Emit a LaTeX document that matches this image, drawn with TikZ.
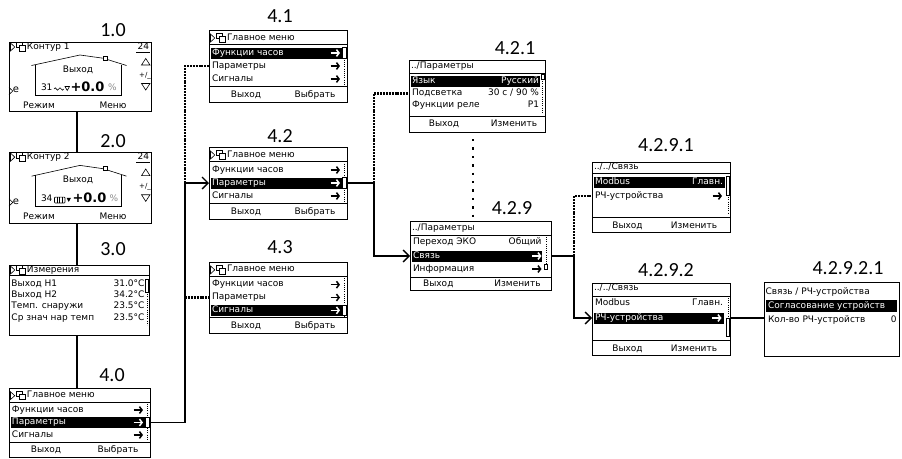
\documentclass[tikz,border=0pt]{standalone}
\usepackage{fontspec}
\setmainfont{DejaVu Sans}
\newfontfamily\lblfont{Carlito}
\usetikzlibrary{arrows.meta,calc}
\tikzset{
  screen/.style={draw,line width=1pt,inner sep=0pt,outer sep=0pt,fill=white},
  stxt/.style={inner sep=0pt,outer sep=0pt,font=\fontsize{9}{9}\selectfont,text height=6pt,text depth=1.8pt},
  big/.style={inner sep=0pt,outer sep=0pt,anchor=west,font=\bfseries\fontsize{13}{13}\selectfont,text height=9.5pt,text depth=0pt},
  pct/.style={stxt,anchor=west,text=black!45},
  lbl/.style={inner sep=0pt,outer sep=0pt,font=\lblfont\fontsize{20}{20}\selectfont},
  hlbar/.style={fill=black,inner sep=0pt,outer sep=0pt,minimum height=11pt,anchor=west},
  sepline/.style={line width=0.8pt},
  icon/.style={line width=0.6pt},
  sbox/.style={line width=0.7pt,fill=white},
  sdots/.style={line width=0.6pt,dash pattern=on 0.8pt off 1.4pt},
  rarrow/.style={line width=1.5pt,-{Straight Barb[length=2.6pt,width=6.8pt]}},
  conn/.style={line width=1.3pt},
  dconn/.style={line width=2.5pt,dash pattern=on 2pt off 0.9pt},
  sparse/.style={line width=2.3pt,dash pattern=on 2.3pt off 6.1pt},
  tip/.style={-{Straight Barb[length=6pt,width=12pt]}},
}
\newcommand\hicon[1]{%
  \draw[icon] (1.5,#1-4) -- (5.8,#1) -- (1.5,#1+4) -- cycle;
  \draw[icon] (7.5,#1-4.3) rectangle (13,#1+0.7);
  \draw[icon,fill=white] (10.3,#1-1.6) rectangle (16.3,#1+4.2);}
\newcommand\rarr[3]{\draw[rarrow,draw=#3] (#1-9.5,#2) -- (#1,#2);}
\newcommand\mainmenu[6]{%
  \ifcase#6\or\def\cA{white}\def\cB{black}\def\cC{black}%
  \or\def\cA{black}\def\cB{white}\def\cC{black}%
  \or\def\cA{black}\def\cB{black}\def\cC{white}\fi
  \begin{scope}[shift={(#2,#3)},yscale=#5/72]
    \node[screen,minimum width=#4pt,minimum height=#5pt,anchor=north west] (#1) at (0,0) {};
    \pgfmathsetmacro\hly{23+13*(#6-1)}
    \hicon{8}
    \node[stxt,anchor=west] (#1-h) at (18,8) {Главное меню};
    \draw[sepline] (0,14.5) -- (#4,14.5);
    \node[hlbar,minimum width={(#4-7)*1pt}] (#1-hl) at (1.5,\hly) {};
    \coordinate (#1-r1) at (0,23);
    \coordinate (#1-r2) at (0,36);
    \coordinate (#1-r3) at (0,49);
    \node[stxt,anchor=west,text=\cA] (#1-t1) at (3,23) {Функции часов};
    \node[stxt,anchor=west,text=\cB] (#1-t2) at (3,36) {Параметры};
    \node[stxt,anchor=west,text=\cC] (#1-t3) at (3,49) {Сигналы};
    \rarr{#4-7}{23}{\cA}
    \rarr{#4-7}{36}{\cB}
    \rarr{#4-7}{49}{\cC}
    \draw[sdots] (#4-2.5,16.5) -- (#4-2.5,55);
    \draw[sbox] (#4-4.5,\hly-5.5) rectangle (#4-1,\hly+5.5);
    \draw[sepline] (0,56.5) -- (#4,56.5);
    \node[stxt] (#1-b1) at (37,65) {Выход};
    \node[stxt] (#1-b2) at (#4-32,65) {Выбрать};
  \end{scope}}
\newcommand\circuit[5]{%
  \begin{scope}[shift={(9,#2)},yscale=#3/69]
    \node[screen,minimum width=142pt,minimum height=#3pt,anchor=north west] (#1) at (0,0) {};
    \hicon{5}
    \node[stxt,anchor=west] (#1-h) at (18,5) {#4};
    \node[stxt,anchor=east] (#1-n) at (140,5) {24};
    \draw[icon] (127,9.8) -- (140.5,9.8);
    \draw[icon] (22.5,23.5) -- (71,13) -- (94,16.2);
    \draw[icon] (98,17.4) -- (117.5,23.5);
    \draw[icon] (94,14) rectangle (98,18);
    \draw[icon] (26,22.7) -- (26,53) -- (112.7,53) -- (112.7,22.7);
    \node[stxt] (#1-v) at (69,28) {Выход};
    \draw[icon] (132.5,23) -- (141,23) -- (136.75,16.5) -- cycle;
    \node[stxt,font=\fontsize{7}{7}\selectfont] (#1-pm) at (136,33) {+/\_};
    \draw[icon] (132.5,41.5) -- (141,41.5) -- (136.75,48) -- cycle;
    \draw[icon] (0,45.5) -- (3.8,49) -- (0,52.5);
    \node[stxt,anchor=west,font=\fontsize{10}{10}\selectfont] (#1-e) at (3.8,48.5) {e};
    \node[stxt] (#1-b1) at (30,64) {Режим};
    \node[stxt] (#1-b2) at (104,64) {Меню};
    #5
  \end{scope}}
\begin{document}
\begin{tikzpicture}[x=1pt,y=-1pt]
\useasboundingbox (0,0) rectangle (902,458);
\fill[white] (0,0) rectangle (902,458);

% ---------- left column ----------
\circuit{s10}{42}{69}{Контур 1}{%
  \node[stxt,anchor=west] (s10-t) at (32,46.5) {31};
  \draw[icon] (45,47) sin (46.2,45.8) cos (47.4,47) sin (48.6,48.2) cos (49.8,47) sin (51,45.8) cos (52.2,47) sin (53.4,48.2) cos (54.6,47);
  \draw[icon] (56,44.5) -- (60.5,44.5) -- (58.25,48.5) -- cycle;
  \node[big] (s10-p) at (61.5,44.7) {+0.0};
  \node[pct] (s10-pc) at (99,46.5) {\%};
}
\circuit{s20}{152}{71}{Контур 2}{%
  \node[stxt,anchor=west] (s20-t) at (32,46.5) {34};
  \draw[icon,rounded corners=0.8pt] (45.5,43.8) rectangle (56,49.6);
  \draw[icon] (48.1,43.8) -- (48.1,49.6) (50.7,43.8) -- (50.7,49.6) (53.3,43.8) -- (53.3,49.6);
  \fill (57.5,44.5) -- (62,44.5) -- (59.75,48.5) -- cycle;
  \node[big] (s20-p) at (63.5,44.7) {+0.0};
  \node[pct] (s20-pc) at (100.5,46.5) {\%};
}
\begin{scope}[shift={(9,265)}]
  \node[screen,minimum width=140pt,minimum height=70pt,anchor=north west] (s30) at (0,0) {};
  \hicon{5}
  \node[stxt,anchor=west] (s30-h) at (18,5) {Измерения};
  \draw[sepline] (0,10.5) -- (140,10.5);
  \node[stxt,anchor=west] (s30-l1) at (2.5,19) {Выход H1};
  \node[stxt,anchor=east] (s30-v1) at (135.5,19) {31.0°C};
  \node[stxt,anchor=west] (s30-l2) at (2.5,30) {Выход H2};
  \node[stxt,anchor=east] (s30-v2) at (135.5,30) {34.2°C};
  \node[stxt,anchor=west] (s30-l3) at (2.5,41.5) {Темп. снаружи};
  \node[stxt,anchor=east] (s30-v3) at (135.5,41.5) {23.5°C};
  \node[stxt,anchor=west] (s30-l4) at (2.5,53) {Ср знач нар темп};
  \node[stxt,anchor=east] (s30-v4) at (135.5,53) {23.5°C};
  \draw[sdots] (138,27) -- (138,60);
  \draw[sbox] (136.3,14.5) rectangle (139.5,27);
\end{scope}
\mainmenu{s40}{9}{388}{141}{69}{2}

% ---------- 4.x ----------
\mainmenu{s41}{209}{30}{138}{72}{1}
\mainmenu{s42}{209}{147}{138}{72}{2}
\mainmenu{s43}{209}{262}{138}{71}{3}

% ---------- 4.2.1 ----------
\begin{scope}[shift={(409,60)}]
  \node[screen,minimum width=136pt,minimum height=72pt,anchor=north west] (s421) at (0,0) {};
  \node[stxt,anchor=west] (s421-h) at (2,6) {../Параметры};
  \draw[sepline] (0,13.5) -- (136,13.5);
  \node[hlbar,minimum width=129.5pt] (s421-hl) at (1.5,21.7) {};
  \coordinate (s421-r1) at (0,21.7);
  \coordinate (s421-r2) at (0,33.3);
  \coordinate (s421-r3) at (0,45);
  \node[stxt,anchor=west,text=white] (s421-l1) at (3,21.7) {Язык};
  \node[stxt,anchor=east,text=white] (s421-v1) at (130,21.7) {Русский};
  \node[stxt,anchor=west] (s421-l2) at (3,33.3) {Подсветка};
  \node[stxt,anchor=east] (s421-v2) at (130,33.3) {30 с / 90 \%};
  \node[stxt,anchor=west] (s421-l3) at (3,45) {Функции реле};
  \node[stxt,anchor=east] (s421-v3) at (130,45) {P1};
  \draw[sdots] (133.5,19) -- (133.5,54);
  \draw[sbox] (132,14.8) rectangle (135.2,19);
  \draw[sepline] (0,56.7) -- (136,56.7);
  \node[stxt] (s421-b1) at (35,64.5) {Выход};
  \node[stxt] (s421-b2) at (105,64.5) {Изменить};
\end{scope}

% ---------- 4.2.9 ----------
\begin{scope}[shift={(410,221)}]
  \node[screen,minimum width=141pt,minimum height=69pt,anchor=north west] (s429) at (0,0) {};
  \node[stxt,anchor=west] (s429-h) at (2,7.5) {../Параметры};
  \draw[sepline] (0,14) -- (141,14);
  \node[hlbar,minimum width=130.5pt] (s429-hl) at (1.5,35) {};
  \node[stxt,anchor=west] (s429-l1) at (3,21.5) {Переход ЭКО};
  \node[stxt,anchor=east] (s429-v1) at (131.5,21.5) {Общий};
  \node[stxt,anchor=west,text=white] (s429-l2) at (3,35) {Связь};
  \rarr{131.5}{35}{white}
  \node[stxt,anchor=west] (s429-l3) at (3,48) {Информация};
  \rarr{131.5}{48}{black}
  \draw[sdots] (136,16) -- (136,43);
  \draw[sbox] (134.4,43) rectangle (137.6,48.5);
  \draw[sepline] (0,56) -- (141,56);
  \node[stxt] (s429-b1) at (28.3,63.5) {Выход};
  \node[stxt] (s429-b2) at (107.5,63.5) {Изменить};
\end{scope}

% ---------- 4.2.9.1 ----------
\begin{scope}[shift={(592,162)}]
  \node[screen,minimum width=138pt,minimum height=70pt,anchor=north west] (s4291) at (0,0) {};
  \node[stxt,anchor=west] (s4291-h) at (2,5.5) {../../Связь};
  \draw[sepline] (0,11.5) -- (138,11.5);
  \node[hlbar,minimum width=131pt] (s4291-hl) at (1.5,20) {};
  \coordinate (s4291-r2) at (0,34);
  \node[stxt,anchor=west,text=white] (s4291-l1) at (3,20) {Modbus};
  \node[stxt,anchor=east,text=white] (s4291-v1) at (131,20) {Главн.};
  \node[stxt,anchor=west] (s4291-l2) at (3,34) {РЧ-устройства};
  \rarr{130}{34}{black}
  \draw[sdots] (135.8,33) -- (135.8,52);
  \draw[sbox] (134,14.7) rectangle (137.4,33);
  \draw[sepline] (0,55) -- (138,55);
  \node[stxt] (s4291-b1) at (35.5,64) {Выход};
  \node[stxt] (s4291-b2) at (102,64) {Изменить};
\end{scope}

% ---------- 4.2.9.2 ----------
\begin{scope}[shift={(592,283)}]
  \node[screen,minimum width=138pt,minimum height=72pt,anchor=north west] (s4292) at (0,0) {};
  \node[stxt,anchor=west] (s4292-h) at (2,5.5) {../../Связь};
  \draw[sepline] (0,13) -- (138,13);
  \node[hlbar,minimum width=130pt] (s4292-hl) at (1.5,35) {};
  \node[stxt,anchor=west] (s4292-l1) at (3,20.5) {Modbus};
  \node[stxt,anchor=east] (s4292-v1) at (131,20.5) {Главн.};
  \node[stxt,anchor=west,text=white] (s4292-l2) at (3,35) {РЧ-устройства};
  \rarr{129.5}{35}{white}
  \draw[sdots] (135.8,15) -- (135.8,35);
  \draw[sbox] (134,35) rectangle (137.4,53);
  \draw[sepline] (0,57) -- (138,57);
  \node[stxt] (s4292-b1) at (35.5,66) {Выход};
  \node[stxt] (s4292-b2) at (102,66) {Изменить};
\end{scope}

% ---------- 4.2.9.2.1 ----------
\begin{scope}[shift={(764,282)}]
  \node[screen,minimum width=135pt,minimum height=74pt,anchor=north west] (s42921) at (0,0) {};
  \node[stxt,anchor=west] (s42921-h) at (1.5,10) {Связь / РЧ-устройства};
  \node[hlbar,minimum width=131.5pt,minimum height=12pt] (s42921-hl) at (1.5,24) {};
  \node[stxt,anchor=west,text=white] (s42921-l1) at (4,24) {Согласование устройств};
  \node[stxt,anchor=west] (s42921-l2) at (4,38) {Кол-во РЧ-устройств};
  \node[stxt,anchor=east] (s42921-v2) at (132.5,38) {0};
\end{scope}

% ---------- labels ----------
\node[lbl] (l10) at (113,30) {1.0};
\node[lbl] (l20) at (113,141) {2.0};
\node[lbl] (l30) at (113,249) {3.0};
\node[lbl] (l40) at (112,375) {4.0};
\node[lbl] (l41) at (280,16) {4.1};
\node[lbl] (l42) at (280,136) {4.2};
\node[lbl] (l43) at (280,247) {4.3};
\node[lbl] (l421) at (515,48) {4.2.1};
\node[lbl] (l429) at (512,208) {4.2.9};
\node[lbl] (l4291) at (666,145) {4.2.9.1};
\node[lbl] (l4292) at (666,270) {4.2.9.2};
\node[lbl] (l42921) at (848,268) {4.2.9.2.1};

% ---------- connectors ----------
\coordinate (jL) at (77,0);
\coordinate (jA) at (185,0);
\coordinate (jB) at (374,0);
\coordinate (jC) at (574,0);
\coordinate (jD) at (473,0);
\draw[conn] (jL |- s10.south) -- (jL |- s20.north);
\draw[conn] (jL |- s20.south) -- (jL |- s30.north);
\draw[conn] (jL |- s30.south) -- (jL |- s40.north);
\draw[dconn] (jA |- s42-hl) -- (jA |- s41-r2) -- (s41.west |- s41-r2);
\draw[dconn] (jA |- s43-r2) -- (s43.west |- s43-r2);
\draw[conn,tip] (s40.east |- s40-hl) -- (jA |- s40-hl) -- (jA |- s42-hl) -- (s42.west |- s42-hl);
\draw[dconn] (jB |- s42-hl) -- (jB |- s421-r2) -- (s421.west |- s421-r2);
\draw[conn,tip] (s42.east |- s42-hl) -- (jB |- s42-hl) -- (jB |- s429-hl) -- (s429.west |- s429-hl);
\draw[dconn] (jC |- s429-hl) -- (jC |- s4291-r2) -- (s4291.west |- s4291-r2);
\draw[conn,tip] (s429.east |- s429-hl) -- (jC |- s429-hl) -- (jC |- s4292-hl) -- (s4292.west |- s4292-hl);
\draw[conn] (s4292.east |- s4292-hl) -- (s42921.west |- s4292-hl);
\draw[sparse] ($(jD |- s421.south)+(0,7)$) -- ($(jD |- s429.north)+(0,-3)$);
\end{tikzpicture}
\end{document}
